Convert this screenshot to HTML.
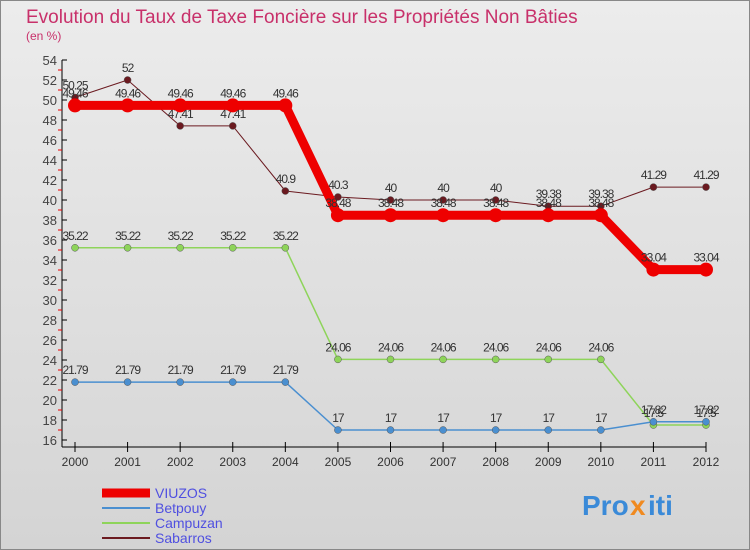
<!DOCTYPE html>
<html><head><meta charset="utf-8"><style>
body{margin:0;width:750px;height:550px;overflow:hidden;font-family:"Liberation Sans",sans-serif}
svg{display:block}
</style></head><body>
<svg id="c" width="750" height="550">
<defs><linearGradient id="bg" x1="0" y1="0" x2="0" y2="1"><stop offset="0" stop-color="#ececec"/><stop offset="1" stop-color="#d4d4d4"/></linearGradient></defs>
<rect x="0.5" y="0.5" width="749" height="549" fill="url(#bg)" stroke="#888"/>
<text x="26" y="23" font-size="19" fill="#c8306a">Evolution du Taux de Taxe Foncière sur les Propriétés Non Bâties</text>
<text x="26" y="40" font-size="12" fill="#c8306a">(en %)</text>
<g id="axes"></g><g id="series"></g><g id="legend"></g>
<g font-size="28" font-weight="bold">
<text x="582" y="515" fill="#3a8ad8">Pro</text><text x="630" y="515" fill="#f08a20">x</text><text x="648" y="515" fill="#3a8ad8">iti</text>
</g>
</svg>
<script>
const years=[2000,2001,2002,2003,2004,2005,2006,2007,2008,2009,2010,2011,2012];
const vieuzos=[49.46,49.46,49.46,49.46,49.46,38.48,38.48,38.48,38.48,38.48,38.48,33.04,33.04];
const betpouy=[21.79,21.79,21.79,21.79,21.79,17,17,17,17,17,17,17.82,17.82];
const campuzan=[35.22,35.22,35.22,35.22,35.22,24.06,24.06,24.06,24.06,24.06,24.06,17.5,17.5];
const sabarros=[50.25,52,47.41,47.41,40.9,40.3,40,40,40,39.38,39.38,41.29,41.29];
const yTicks=[16,18,20,22,24,26,28,30,32,34,36,38,40,42,44,46,48,50,52,54];
const NS="http://www.w3.org/2000/svg";
const xs=i=>75+i*(706-75)/12, ys=v=>440-(v-16)*10;
function mk(p,t,a){const e=document.createElementNS(NS,t);for(const k in a)e.setAttribute(k,a[k]);p.appendChild(e);return e;}
const ax=document.getElementById('axes');
let l=mk(ax,'line',{x1:62,y1:ys(54),x2:62,y2:447,stroke:'#000'});

l=mk(ax,'line',{x1:62,y1:447,x2:706,y2:447,stroke:'#000'});

yTicks.forEach(v=>{mk(ax,'line',{x1:62,y1:ys(v),x2:67,y2:ys(v),stroke:'#000'});
if(v<54)mk(ax,'line',{x1:58,y1:ys(v+1),x2:62,y2:ys(v+1),stroke:'#e00'});
const t=mk(ax,'text',{x:57,y:ys(v)+5,'text-anchor':'end','font-size':13,fill:'#444'});t.textContent=v;
});
years.forEach((y,i)=>{mk(ax,'line',{x1:xs(i),y1:442,x2:xs(i),y2:452,stroke:'#000'});
const t=mk(ax,'text',{x:xs(i),y:466,'text-anchor':'middle','font-size':12,fill:'#333'});t.textContent=y;
});
const S=[{n:'Sabarros',d:sabarros,c:'#6b1a20',w:1,r:3.5},{n:'Campuzan',d:campuzan,c:'#8ed45a',w:1.5,r:3.5},{n:'Betpouy',d:betpouy,c:'#4a8fd0',w:1.5,r:3.5},{n:'VIUZOS',d:vieuzos,c:'#ee0000',w:9,r:7}];
const sg=document.getElementById('series');
S.forEach(s=>{const g=mk(sg,'g',{});

mk(g,'polyline',{points:s.d.map((v,i)=>xs(i)+','+ys(v)).join(' '),fill:'none',stroke:s.c,'stroke-width':s.w,'stroke-linejoin':'round'});
s.d.forEach((v,i)=>{const p=mk(g,'circle',{cx:xs(i),cy:ys(v),r:s.r,fill:s.c,stroke:s.w>5?'none':'#555','stroke-width':0.5});

const t=mk(g,'text',{x:xs(i),y:ys(v)-8,'text-anchor':'middle','font-size':12,fill:'#333','letter-spacing':'-1'});t.textContent=v;
});});
const lg=document.getElementById('legend');
[{n:'VIUZOS',c:'#ee0000',w:9},{n:'Betpouy',c:'#4a8fd0',w:2},{n:'Campuzan',c:'#8ed45a',w:2},{n:'Sabarros',c:'#6b1a20',w:2}].forEach((s,i)=>{
const g=mk(lg,'g',{});
const y=493+i*15;mk(g,'line',{x1:102,y1:y,x2:150,y2:y,stroke:s.c,'stroke-width':s.w});
const t=mk(g,'text',{x:155,y:y+5,'font-size':14,fill:'#5050e0'});t.textContent=s.n;});
</script>
</body></html>
